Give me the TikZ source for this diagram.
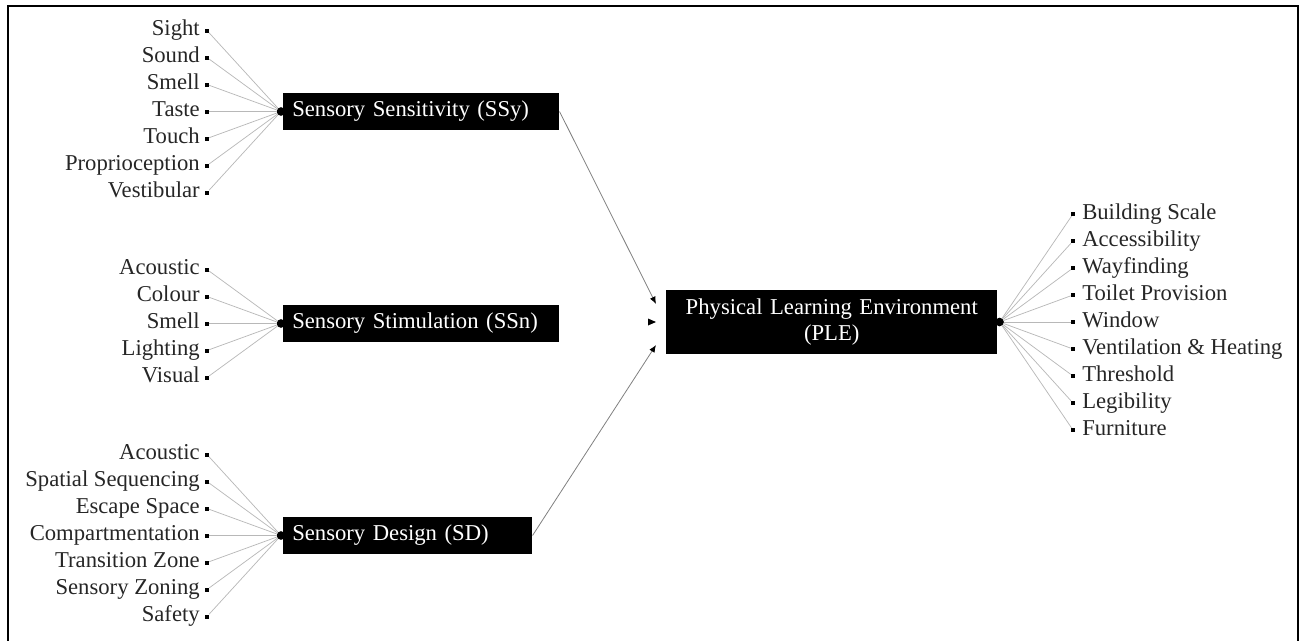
\documentclass[tikz,border=0pt]{standalone}
\usepackage{fontspec}
\setmainfont{Liberation Serif}
\usetikzlibrary{arrows.meta}
\begin{document}
\begin{tikzpicture}[x=0.75pt,y=-0.75pt,
  every node/.style={font=\fontsize{17}{19.5}\selectfont},
  blk/.style={fill=black, text=white, inner xsep=6.75pt, inner ysep=0pt, minimum height=27.75pt, align=left, anchor=west},
  dotn/.style={circle, fill=black, inner sep=0pt, minimum size=6.5pt},
  bul/.style={rectangle, fill=black, inner sep=0pt, minimum size=3pt},
  litem/.style={anchor=east, inner sep=0pt, text height=11.5pt, text depth=3.5pt, text=black!85},
  ritem/.style={anchor=west, inner sep=0pt, text height=11.5pt, text depth=3.5pt, text=black!85},
  conn/.style={draw=black!28, line width=0.55pt},
  mainconn/.style={draw=black!50, line width=0.6pt, -{Latex[color=black,length=5.5pt,width=4.5pt]}},
  frame/.style={draw=black, line width=1.3pt}
]
\useasboundingbox (0,0) rectangle (1302,640);
\draw[frame] (8,645) -- (8,6) -- (1298,6) -- (1298,645);

% category boxes
\node[blk, text width=193.5pt] (ssy) at (283,111.5) {Sensory Sensitivity (SSy)};
\node[blk, text width=193.5pt] (ssn) at (283,323.5) {Sensory Stimulation (SSn)};
\node[blk, text width=173.25pt] (sd) at (283,535.5) {Sensory Design (SD)};
\node[blk, align=center, text width=234.75pt, minimum height=48pt] (ple) at (666,322) {Physical Learning Environment\\(PLE)};

% connection dots
\node[dotn] (ssyd) at ([xshift=-1.5pt]ssy.west) {};
\node[dotn] (ssnd) at ([xshift=-1.5pt]ssn.west) {};
\node[dotn] (sdd) at ([xshift=-1.5pt]sd.west) {};
\node[dotn] (pled) at ([xshift=1.5pt]ple.east) {};

% SSy items
\foreach \t [count=\i] in {Sight,Sound,Smell,Taste,Touch,Proprioception,Vestibular} {
  \node[bul] (a\i) at (207,{111.5+27*(\i-4)}) {};
  \node[litem] (at\i) at (200,{111.5+27*(\i-4)}) {\t};
  \draw[conn] (a\i) -- (ssyd);
}
% SSn items
\foreach \t [count=\i] in {Acoustic,Colour,Smell,Lighting,Visual} {
  \node[bul] (b\i) at (207,{323.5+27*(\i-3)}) {};
  \node[litem] (bt\i) at (200,{323.5+27*(\i-3)}) {\t};
  \draw[conn] (b\i) -- (ssnd);
}
% SD items
\foreach \t [count=\i] in {Acoustic,Spatial Sequencing,Escape Space,Compartmentation,Transition Zone,Sensory Zoning,Safety} {
  \node[bul] (c\i) at (207,{535.5+27*(\i-4)}) {};
  \node[litem] (ct\i) at (200,{535.5+27*(\i-4)}) {\t};
  \draw[conn] (c\i) -- (sdd);
}
% PLE items
\foreach \t [count=\i] in {Building Scale,Accessibility,Wayfinding,Toilet Provision,Window,Ventilation \& Heating,Threshold,Legibility,Furniture} {
  \node[bul] (d\i) at (1073,{322+27*(\i-5)}) {};
  \node[ritem] (dt\i) at (1082,{322+27*(\i-5)}) {\t};
  \draw[conn] (pled) -- (d\i);
}

% inputs to PLE
\coordinate (in1) at (656,304);
\coordinate (in2) at (656,322);
\coordinate (in3) at (656,345);
\draw[mainconn] (ssy.east) -- (in1);
\draw[mainconn] (sd.east) -- (in3);
\fill[black] (in2) -- ++(-8,-3.5) -- ++(0,7) -- cycle;
\end{tikzpicture}
\end{document}
